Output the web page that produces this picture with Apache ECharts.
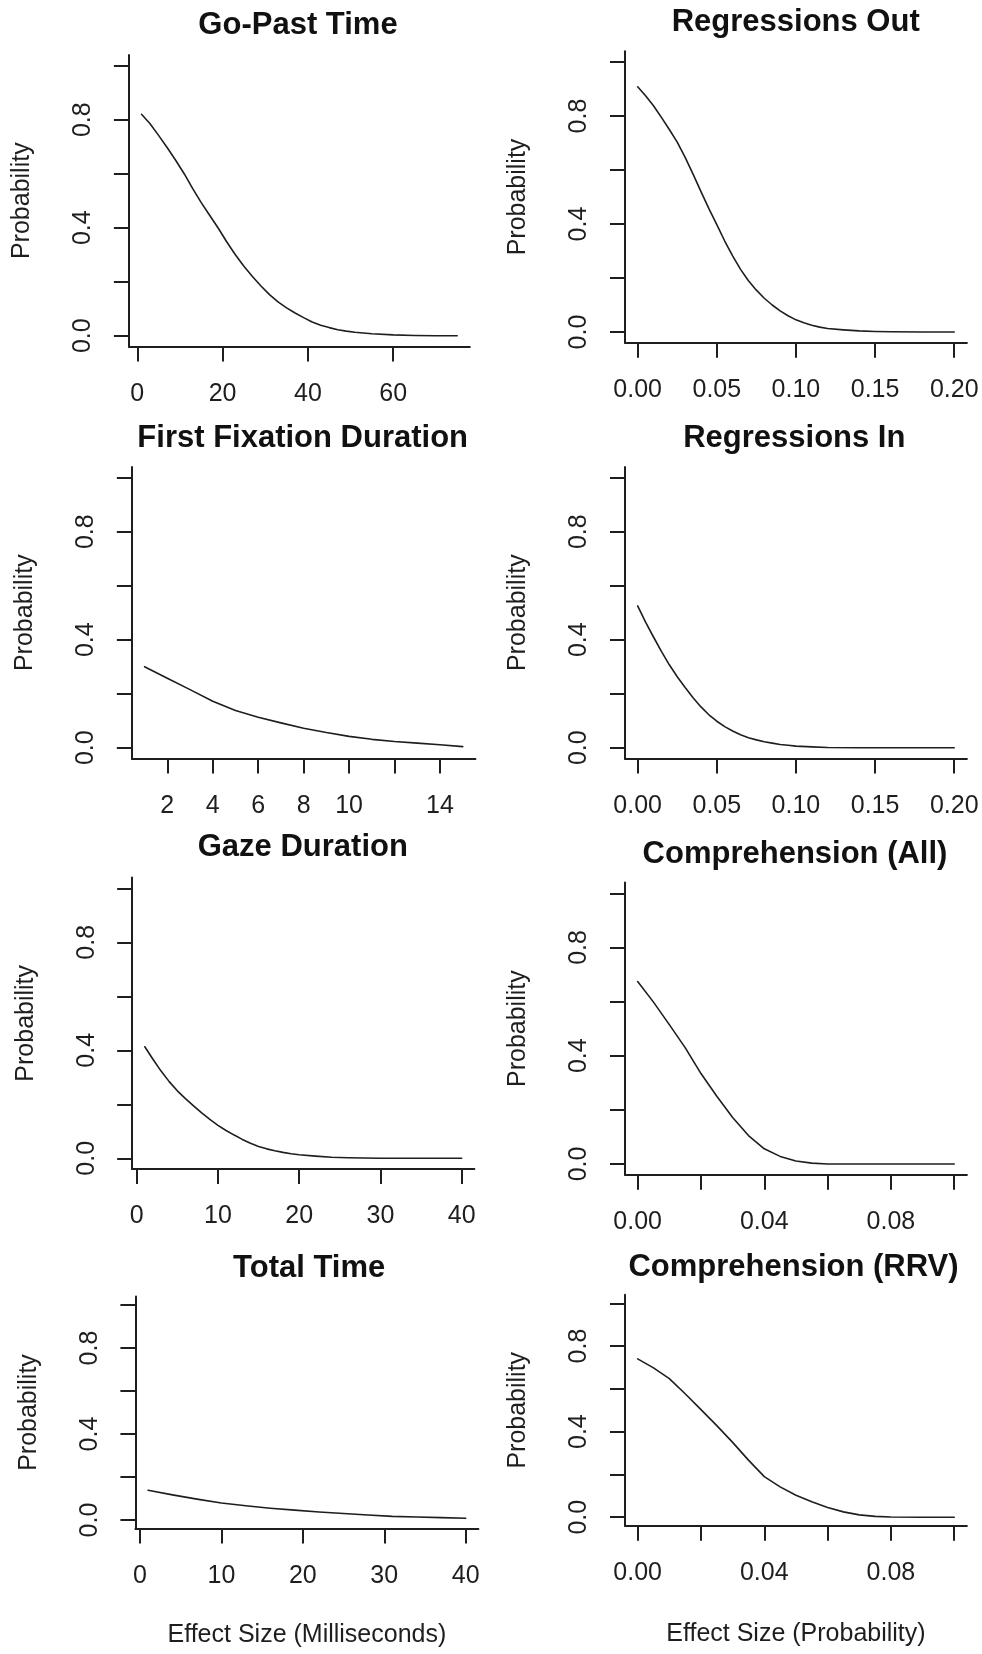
<!DOCTYPE html>
<html><head><meta charset="utf-8">
<script src="https://cdn.jsdelivr.net/npm/echarts@6/dist/echarts.min.js"></script>
<style>html,body{margin:0;padding:0;background:#fff}#c{width:982px;height:1654px}</style>
</head><body><div id="c"></div>
<script>
// ---------------- DATA ----------------
const titles = ['Go-Past Time','Regressions Out','First Fixation Duration','Regressions In','Gaze Duration','Comprehension (All)','Total Time','Comprehension (RRV)'];
const yAxisName = 'Probability';
const xNameMs = 'Effect Size (Milliseconds)';
const xNameProb = 'Effect Size (Probability)';

const goPastX = [1,3,5,7,9,11,13,15,17,19,21,23,25,27,29,31,33,35,37,39,41,43,45,47,49,51,55,60,65,70,75];
const goPastY = [0.82,0.785,0.742,0.697,0.65,0.60,0.545,0.493,0.445,0.398,0.347,0.30,0.257,0.219,0.184,0.152,0.125,0.103,0.084,0.067,0.051,0.039,0.030,0.022,0.017,0.013,0.007,0.003,0.001,0.0,0.0];

const regOutX = [0,0.005,0.01,0.015,0.02,0.025,0.03,0.035,0.04,0.045,0.05,0.055,0.06,0.065,0.07,0.075,0.08,0.085,0.09,0.095,0.10,0.105,0.11,0.115,0.12,0.13,0.14,0.15,0.16,0.18,0.20];
const regOutY = [0.908,0.875,0.838,0.795,0.75,0.703,0.647,0.585,0.52,0.457,0.398,0.337,0.282,0.232,0.19,0.155,0.125,0.10,0.078,0.060,0.045,0.034,0.025,0.018,0.013,0.008,0.004,0.002,0.001,0.0,0.0];

const ffdX = [1,2,3,4,5,6,7,8,9,10,11,12,13,14,15];
const ffdY = [0.30,0.257,0.215,0.172,0.138,0.113,0.092,0.072,0.056,0.042,0.031,0.023,0.017,0.011,0.004];

const regInX = [0,0.005,0.01,0.015,0.02,0.025,0.03,0.035,0.04,0.045,0.05,0.055,0.06,0.065,0.07,0.075,0.08,0.085,0.09,0.095,0.10,0.11,0.12,0.14,0.16,0.18,0.20];
const regInY = [0.525,0.465,0.41,0.357,0.307,0.263,0.223,0.185,0.151,0.122,0.098,0.078,0.062,0.048,0.037,0.029,0.022,0.017,0.012,0.009,0.006,0.003,0.001,0.0,0.0,0.0,0.0];

const gazeX = [1,2,3,4,5,6,7,8,9,10,11,12,13,14,15,16,17,18,19,20,22,24,26,28,30,35,40];
const gazeY = [0.413,0.367,0.323,0.284,0.25,0.221,0.194,0.168,0.144,0.122,0.103,0.086,0.07,0.056,0.044,0.035,0.028,0.022,0.017,0.013,0.008,0.004,0.002,0.001,0.0,0.0,0.0];

const compAllX = [0,0.005,0.01,0.015,0.02,0.025,0.03,0.035,0.04,0.045,0.05,0.055,0.06,0.07,0.08,0.09,0.10];
const compAllY = [0.674,0.598,0.515,0.43,0.334,0.25,0.172,0.105,0.056,0.028,0.011,0.003,0.0,0.0,0.0,0.0,0.0];

const totalX = [1,4,7,10,13,16,19,22,25,28,31,34,37,40];
const totalY = [0.138,0.117,0.097,0.079,0.066,0.055,0.046,0.037,0.030,0.023,0.017,0.014,0.011,0.008];

const compRrvX = [0,0.005,0.01,0.015,0.02,0.025,0.03,0.035,0.04,0.045,0.05,0.055,0.06,0.065,0.07,0.075,0.08,0.09,0.10];
const compRrvY = [0.74,0.698,0.648,0.577,0.503,0.428,0.35,0.267,0.19,0.142,0.103,0.072,0.046,0.025,0.011,0.004,0.001,0.0,0.0];

// tick values / labels
const yTicks = [0,0.2,0.4,0.6,0.8,1.0];
const yLabels = [0,0.4,0.8];
const goPastTicks = [0,20,40,60];
const ffdTicks = [2,4,6,8,10,12,14];
const ffdLabels = [2,4,6,8,10,14];
const ms40Ticks = [0,10,20,30,40];
const prob20Ticks = [0,0.05,0.10,0.15,0.20];
const prob10Ticks = [0,0.02,0.04,0.06,0.08,0.10];
const prob10Labels = [0,0.04,0.08];

// ---------------- LAYOUT ----------------
const FONT = '"Liberation Sans", Arial, Helvetica, sans-serif';
const INK = '#1e1e1e';
const panels = [
  {x: goPastX, y: goPastY, ticks: goPastTicks, labels: goPastTicks, dec: 0, grid:[128.9,54.9,340.9,291.6], title:[298,25.5]},
  {x: regOutX, y: regOutY, ticks: prob20Ticks, labels: prob20Ticks, dec: 2, grid:[625.0,51.2,341.9,291.6], title:[795.7,22]},
  {x: ffdX, y: ffdY, ticks: ffdTicks, labels: ffdLabels, dec: 0, grid:[131.85,466.9,343.6,291.6], title:[302.7,438.3]},
  {x: regInX, y: regInY, ticks: prob20Ticks, labels: prob20Ticks, dec: 2, grid:[625.0,466.9,341.9,291.6], title:[794.3,438.3]},
  {x: gazeX, y: gazeY, ticks: ms40Ticks, labels: ms40Ticks, dec: 0, grid:[132.15,877.5,342.2,291.6], title:[302.8,847.5]},
  {x: compAllX, y: compAllY, ticks: prob10Ticks, labels: prob10Labels, dec: 2, grid:[625.0,882.5,341.9,292.3], title:[795,854.2]},
  {x: totalX, y: totalY, ticks: ms40Ticks, labels: ms40Ticks, dec: 0, grid:[135.4,1296.4,343.0,232.2], title:[309.2,1268.3], xname: xNameMs, nameGap: 94},
  {x: compRrvX, y: compRrvY, ticks: prob10Ticks, labels: prob10Labels, dec: 2, grid:[625.0,1294.7,341.9,231.1], title:[793.5,1267.5], xname: xNameProb, nameGap: 96}
];

const grid = [], xAxis = [], yAxis = [], series = [], title = [];
panels.forEach((p, i) => {
  const xmin = Math.min(...p.x), xmax = Math.max(...p.x);
  const pad = (xmax - xmin) * 0.04;
  grid.push({left: p.grid[0], top: p.grid[1], width: p.grid[2], height: p.grid[3], containLabel: false, outerBoundsMode: 'none'});
  const axisLine = {show: true, onZero: false, lineStyle: {color: INK, width: 2}};
  const axisTickBase = {show: true, inside: false, length: 15, lineStyle: {color: INK, width: 2}};
  xAxis.push({
    type: 'value', gridIndex: i, min: xmin - pad, max: xmax + pad,
    axisLine, splitLine: {show: false},
    axisTick: Object.assign({customValues: p.ticks}, axisTickBase),
    axisLabel: {customValues: p.labels, margin: 35, color: INK, fontSize: 25, fontFamily: FONT, lineHeight: 25,
      hideOverlap: false, formatter: v => Number(v).toFixed(p.dec)},
    name: p.xname || '', nameLocation: 'middle', nameGap: p.nameGap || 90, nameMoveOverlap: false,
    nameTextStyle: {color: INK, fontSize: 25, fontFamily: FONT, lineHeight: 25}
  });
  yAxis.push({
    type: 'value', gridIndex: i, min: -0.04, max: 1.04,
    axisLine, splitLine: {show: false},
    axisTick: Object.assign({customValues: yTicks}, axisTickBase),
    axisLabel: {customValues: yLabels, rotate: 90, margin: 33, color: INK, fontSize: 25, fontFamily: FONT, lineHeight: 25,
      hideOverlap: false, formatter: v => Number(v).toFixed(1)},
    name: yAxisName, nameLocation: 'middle', nameRotate: 90, nameGap: 94, nameMoveOverlap: false,
    nameTextStyle: {color: INK, fontSize: 25, fontFamily: FONT, lineHeight: 25}
  });
  series.push({
    type: 'line', xAxisIndex: i, yAxisIndex: i, showSymbol: false, symbol: 'none', smooth: false,
    lineStyle: {color: INK, width: 1.6, join: 'round', cap: 'round'}, silent: true,
    data: p.x.map((x, k) => [x, p.y[k]])
  });
  title.push({
    text: titles[i], left: p.title[0], top: p.title[1] - 15.5, textAlign: 'center',
    textStyle: {color: '#111', fontSize: 31, fontWeight: 'bold', fontFamily: FONT, lineHeight: 31}, padding: 0
  });
});

const chart = echarts.init(document.getElementById('c'), null, {renderer: 'canvas'});
chart.setOption({backgroundColor: '#ffffff', animation: false, title, grid, xAxis, yAxis, series});
</script></body></html>
